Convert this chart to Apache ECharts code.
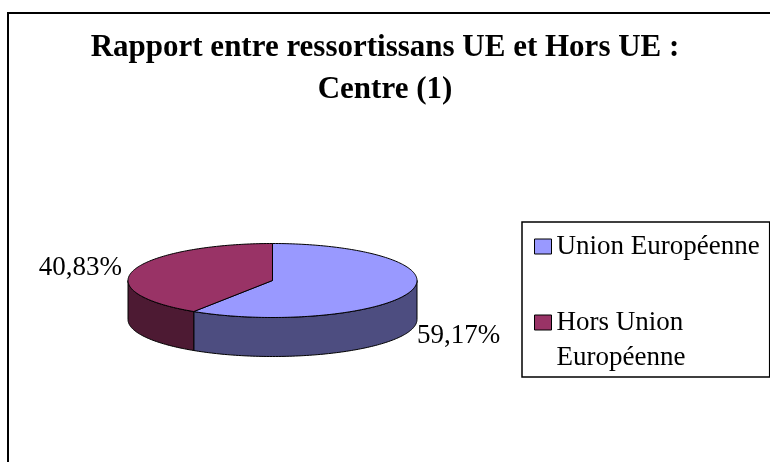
<!DOCTYPE html>
<html>
<head>
<meta charset="utf-8">
<title>Centre (1)</title>
<style>html,body{margin:0;padding:0;background:#fff}#chart{width:770px;height:462px}</style>
</head>
<body>
<div id="chart"></div>
<script src="https://cdn.jsdelivr.net/npm/echarts@6/dist/echarts.min.js"></script>
<script>
var categories = ['Union Européenne', 'Hors Union Européenne'];
var values = [59.17, 40.83];
var topColors = ['#9999FF', '#993366'];
var sideColors = ['#4D4D80', '#4D1A33'];

// flat "3D" pie: ellipse centre, radii and thickness
var cx = 272.5, cy = 280.5, rx = 144.5, ry = 37, depth = 39;
var total = values.reduce(function (a, b) { return a + b; }, 0);

function pt(a, dy) { // a = angle clockwise from 12 o'clock
  return [cx + rx * Math.sin(a), cy - ry * Math.cos(a) + (dy || 0)];
}
function arc(a1, a2, dy) {
  var n = Math.max(2, Math.ceil(Math.abs(a2 - a1) / 0.02)), out = [];
  for (var i = 0; i <= n; i++) out.push(pt(a1 + (a2 - a1) * i / n, dy));
  return out;
}
function fmt(v) { return v.toFixed(2).replace('.', ',') + '%'; }

function renderSlice(idx) {
  return function (params, api) {
    var before = 0;
    for (var i = 0; i < idx; i++) before += values[i];
    var v = api.value(0);
    var a1 = before / total * 2 * Math.PI;
    var a2 = (before + v) / total * 2 * Math.PI;
    var children = [];
    // only the front half of the rim is visible
    var s1 = Math.max(a1, Math.PI / 2), s2 = Math.min(a2, 3 * Math.PI / 2);
    if (s2 > s1) {
      children.push({
        type: 'polygon', z2: 1,
        shape: { points: arc(s1, s2, 0).concat(arc(s2, s1, depth)) },
        style: { fill: sideColors[idx], stroke: '#000', lineWidth: 1 }
      });
    }
    children.push({
      type: 'polygon', z2: 2,
      shape: { points: [[cx, cy]].concat(arc(a1, a2, 0)) },
      style: { fill: topColors[idx], stroke: '#000', lineWidth: 1 }
    });
    var mid = (a1 + a2) / 2;
    var front = Math.cos(mid) < 0;
    var p = pt(mid, front ? depth : 0);
    var right = Math.sin(mid) >= 0;
    children.push({
      type: 'text', z2: 3,
      x: p[0] + (right ? 6 : -12), y: p[1] + (front ? 6 : -2),
      style: {
        text: fmt(v), fill: '#000',
        font: '27px "Liberation Serif"',
        align: right ? 'left' : 'right', verticalAlign: 'middle'
      }
    });
    return { type: 'group', children: children };
  };
}

var myChart = echarts.init(document.getElementById('chart'));

var series = categories.map(function (name, i) {
  return {
    name: name,
    type: 'custom',
    coordinateSystem: 'none',
    silent: true,
    itemStyle: { color: topColors[i] },
    renderItem: renderSlice(i),
    data: [[values[i]]]
  };
});

var option = {
  animation: false,
  title: {
    text: 'Rapport entre ressortissans UE et Hors UE :\nCentre (1)',
    left: 'center',
    top: 22,
    textStyle: {
      fontFamily: 'Liberation Serif',
      fontWeight: 'bold',
      fontSize: 31,
      lineHeight: 42,
      color: '#000'
    }
  },
  graphic: [{
    type: 'rect',
    shape: { x: 8, y: 13, width: 800, height: 500 },
    style: { fill: 'none', stroke: '#000', lineWidth: 2 },
    silent: true
  }],
  legend: {
    orient: 'vertical',
    left: 522,
    top: 222,
    padding: [7, 10, 2, 12],
    borderColor: '#000',
    borderWidth: 1.5,
    itemWidth: 17,
    itemHeight: 15,
    itemGap: 6,
    icon: 'rect',
    selectedMode: false,
    itemStyle: { borderColor: '#000', borderWidth: 1 },
    textStyle: {
      fontFamily: 'Liberation Serif',
      fontSize: 27,
      lineHeight: 35,
      color: '#000'
    },
    // long names wrap before the last word; the blank first line keeps
    // the marker beside the first text line
    formatter: function (name) {
      var w = name.split(' ');
      return w.length > 2 ? ' \n' + w.slice(0, -1).join(' ') + '\n' + w[w.length - 1] : name;
    },
    data: categories
  },
  series: series
};

myChart.setOption(option);
</script>
</body>
</html>
